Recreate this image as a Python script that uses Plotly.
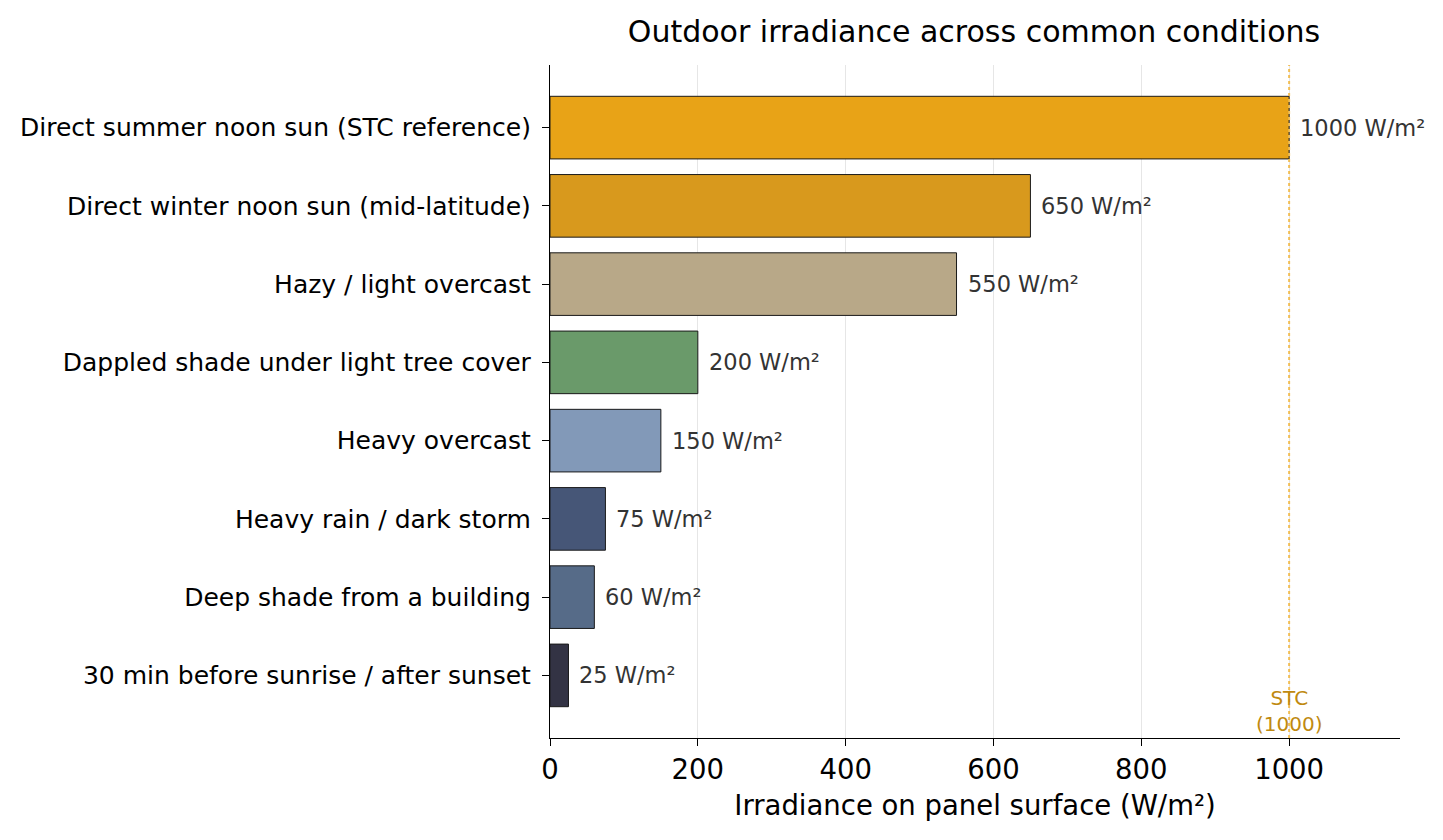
import plotly.graph_objects as go

# Conditions and irradiance values (W/m²)
conditions = [
    "Direct summer noon sun (STC reference)",
    "Direct winter noon sun (mid-latitude)",
    "Hazy / light overcast",
    "Dappled shade under light tree cover",
    "Heavy overcast",
    "Heavy rain / dark storm",
    "Deep shade from a building",
    "30 min before sunrise / after sunset",
]
irradiance = [1000, 650, 550, 200, 150, 75, 60, 25]
bar_colors = ["#E8A317", "#D8991D", "#B8A888", "#6A9A6A",
              "#8299B8", "#465677", "#566B88", "#333344"]
labels = [f"{v} W/m²" for v in irradiance]
stc_value = 1000

fig = go.Figure()

fig.add_trace(go.Bar(
    y=conditions,
    x=irradiance,
    orientation="h",
    width=0.8,
    marker=dict(color=bar_colors, line=dict(color="#1a1a1a", width=1)),
    hoverinfo="x+y",
))

# value labels just right of each bar
for cond, val, lab in zip(conditions, irradiance, labels):
    fig.add_annotation(x=val, y=cond, text=lab, showarrow=False,
                       xanchor="left", xshift=9,
                       font=dict(size=22.5, color="#333333"))

# STC reference line
fig.add_vline(x=stc_value, line=dict(color="#F2BE55", width=2, dash="dot"),
              layer="above")
fig.add_annotation(x=stc_value, y=0, yref="paper", yanchor="bottom",
                   text="STC<br>(1000)", showarrow=False,
                   font=dict(size=20, color="#C08A10"), yshift=0)

# page body has an 8px margin, so margins are shifted by that
fig.update_layout(
    width=1443, height=840,
    paper_bgcolor="white", plot_bgcolor="white",
    font=dict(family="DejaVu Sans", color="black"),
    title=dict(text="Outdoor irradiance across common conditions",
               x=(540 + 1392) / 2 / 1443, xanchor="center",
               y=1 - 23 / 840, yanchor="middle",
               font=dict(size=30)),
    margin=dict(l=540, r=51, t=57, b=110),
    showlegend=False,
)

fig.update_xaxes(
    range=[0, 1150],
    tickvals=[0, 200, 400, 600, 800, 1000],
    showgrid=True, gridcolor="#e6e6e6", gridwidth=1,
    showline=True, linecolor="black", linewidth=1.2,
    ticks="outside", ticklen=7, tickcolor="black",
    tickfont=dict(size=27.5),
    title=dict(text="Irradiance on panel surface (W/m²)", font=dict(size=27.5), standoff=11),
    zeroline=False,
)
fig.update_yaxes(
    autorange=False,
    range=[len(conditions) - 1 + 0.8, -0.8],
    showline=True, linecolor="black", linewidth=1.2,
    ticks="outside", ticklen=7, tickcolor="black",
    ticklabelstandoff=6,
    tickfont=dict(size=25),
    showgrid=False,
)

fig.write_html("out.html")
